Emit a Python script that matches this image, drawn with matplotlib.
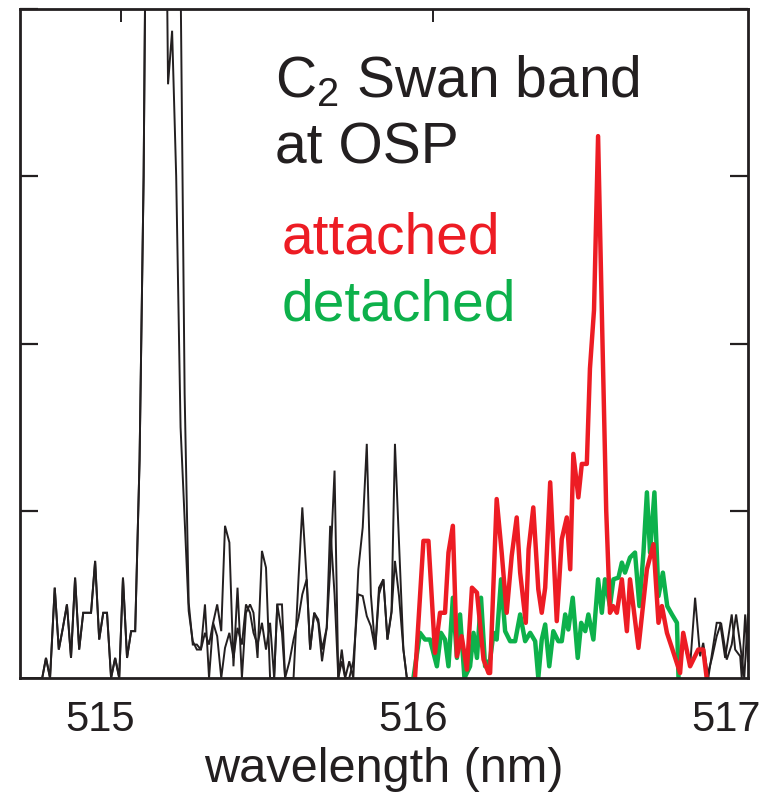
#!/usr/bin/env python3
"""
plot.py
C2 Swan band emission near the outer strike point, attached vs detached.
"""
import numpy as np
import matplotlib
matplotlib.rcParams.update({'font.family': 'Liberation Sans',
                            'mathtext.fontset': 'custom',
                            'mathtext.rm': 'Liberation Sans',
                            'mathtext.it': 'Liberation Sans'})
import matplotlib.pyplot as plt

# ── Data ──────────────────────────────────────────────────────────────────────
# wavelength (nm) of the black part left of the band, shared by both spectra
wl_left = [514.750, 514.815, 514.827, 514.840, 514.855, 514.868, 514.881,
           514.894, 514.907, 514.920, 514.933, 514.946, 514.958, 514.971,
           514.984, 514.997, 515.010, 515.022, 515.035, 515.048, 515.061,
           515.073, 515.086, 515.099, 515.112, 515.126, 515.139, 515.152,
           515.165, 515.178, 515.191, 515.204, 515.217, 515.230, 515.243,
           515.257, 515.270, 515.283, 515.296, 515.309, 515.322, 515.335,
           515.348, 515.361, 515.374, 515.387, 515.399, 515.413, 515.426,
           515.439, 515.453, 515.466, 515.479, 515.490, 515.503, 515.517,
           515.530, 515.543, 515.556, 515.566, 515.581, 515.591, 515.605,
           515.618, 515.634, 515.646, 515.660, 515.671, 515.684, 515.697,
           515.709, 515.724, 515.735, 515.749, 515.761, 515.772, 515.783,
           515.796, 515.809, 515.825, 515.839, 515.852, 515.865, 515.879,
           515.891, 515.905, 515.918, 515.931, 515.942, 515.955, 515.969,
           515.980, 515.990]
att_left = [0, 0, 0.12, 0, 0.54, 0.17, 0.30, 0.44, 0.12, 0.60, 0.17, 0.39,
            0.39, 0.39, 0.70, 0.23, 0.39, 0.39, 0, 0.12, 0, 0.60, 0.12, 0.28,
            0.28, 1.3, 3.0, 6.0, 9.0, 12.0, 10.0, 6.0, 3.55, 3.87, 3.0, 1.5,
            0.95, 0.40, 0.22, 0.17, 0.17, 0.44, 0.0, 0.33, 0.44, 0.28, 0.91,
            0.81, 0.07, 0.54, 0.0, 0.39, 0.44, 0.39, 0.12, 0.76, 0.66, 0.0,
            0.0, 0.44, 0.44, 0.0, 0.0, 0.0, 0.60, 1.02, 0.59, 0.17, 0.39,
            0.35, 0.17, 0.30, 0.65, 1.24, 0.0, 0.17, 0.0, 0.10, 0.0, 0.65,
            0.90, 1.40, 0.50, 0.17, 0.50, 0.59, 0.23, 0.40, 1.40, 0.80, 0.17,
            0.0, 0.0]
det_left = [0, 0, 0.12, 0, 0.54, 0.17, 0.30, 0.44, 0.12, 0.60, 0.17, 0.39,
            0.39, 0.39, 0.70, 0.23, 0.39, 0.39, 0, 0.12, 0, 0.60, 0.12, 0.28,
            0.28, 1.3, 3.0, 6.0, 8.0, 11.0, 12.0, 10.0, 8.0, 6.0, 5.0, 4.2,
            1.7, 0.45, 0.20, 0.20, 0.17, 0.27, 0.20, 0.33, 0.25, 0.0, 0.18,
            0.27, 0.12, 0.30, 0.20, 0.44, 0.39, 0.27, 0.20, 0.33, 0.17, 0.33,
            0.0, 0.44, 0.27, 0.0, 0.10, 0.23, 0.36, 0.50, 0.59, 0.17, 0.39,
            0.33, 0.10, 0.30, 0.91, 0.50, 0.0, 0.10, 0.0, 0.0, 0.10, 0.50,
            0.49, 0.37, 0.31, 0.17, 0.54, 0.59, 0.23, 0.39, 0.70, 0.49, 0.17,
            0.0, 0.0]

# attached spectrum across the band and beyond
wl_att = [516.006, 516.033, 516.049, 516.070, 516.086, 516.102, 516.113,
          516.127, 516.140, 516.155, 516.172, 516.188, 516.204, 516.225,
          516.241, 516.246, 516.267, 516.283, 516.299, 516.315, 516.331,
          516.342, 516.360, 516.369, 516.384, 516.400, 516.411, 516.422,
          516.438, 516.459, 516.475, 516.491, 516.502, 516.512, 516.528,
          516.539, 516.555, 516.565, 516.578, 516.591, 516.604, 516.617,
          516.629, 516.639, 516.651, 516.667, 516.683, 516.693, 516.720,
          516.747, 516.768, 516.784, 516.795, 516.811, 516.827, 516.853,
          516.863, 516.885, 516.911, 516.927, 516.938,
          516.955, 516.970, 516.984, 517.002, 517.018, 517.032, 517.045,
          517.058, 517.070]
att_band = [0, 0.82, 0.82, 0.15, 0.39, 0.39, 0.75, 0.91, 0.13, 0.25, 0.05,
            0.54, 0.51, 0.11, 0.03, 0.03, 1.07, 0.75, 0.39, 0.73, 0.96, 0.63,
            0.33, 0.77, 1.02, 0.53, 0.39, 0.54, 1.17, 0.34, 0.83, 0.96, 0.65,
            1.34, 1.08, 1.28, 1.28, 1.85, 2.2, 3.24, 2.1, 1.0, 0.39, 0.43,
            0.39, 0.59, 0.28, 0.59, 0.18, 0.65, 0.80, 0.33, 0.43, 0.27, 0.18,
            0.03, 0.27, 0.07, 0.17, 0.17, 0.0,
            0.12, 0.25, 0.33, 0.11, 0.20, 0.38, 0.20, 0.0, 0.38]

# detached spectrum across the band and beyond
wl_det = [516.001, 516.022, 516.038, 516.054, 516.076, 516.089, 516.102,
          516.113, 516.127, 516.140, 516.150, 516.164, 516.182, 516.193,
          516.204, 516.217, 516.230, 516.246, 516.257, 516.267, 516.281,
          516.294, 516.310, 516.326, 516.342, 516.358, 516.374, 516.390,
          516.400, 516.411, 516.422, 516.435, 516.448, 516.464, 516.475,
          516.486, 516.496, 516.510, 516.526, 516.537, 516.550, 516.560,
          516.576, 516.591, 516.603, 516.613, 516.629, 516.640, 516.656,
          516.667, 516.677, 516.693, 516.709, 516.723, 516.736, 516.747,
          516.757, 516.771, 516.784, 516.798, 516.812, 516.827, 516.843,
          516.848,
          516.864, 516.885, 516.901, 516.917, 516.927, 516.943, 516.970,
          516.981, 516.997, 517.018, 517.029, 517.045, 517.050, 517.061,
          517.070]
det_band = [0, 0.27, 0.23, 0.23, 0.07, 0.27, 0.23, 0.07, 0.48, 0.12, 0.38,
            0.0, 0.07, 0.27, 0.12, 0.48, 0.07, 0.11, 0.27, 0.23, 0.59, 0.28,
            0.22, 0.22, 0.38, 0.22, 0.27, 0.22, 0.0, 0.23, 0.32, 0.07, 0.28,
            0.22, 0.22, 0.38, 0.29, 0.48, 0.12, 0.33, 0.28, 0.38, 0.23, 0.59,
            0.39, 0.59, 0.43, 0.59, 0.60, 0.69, 0.63, 0.72, 0.75, 0.43, 0.75,
            1.11, 0.75, 1.11, 0.49, 0.63, 0.43, 0.38, 0.33, 0.0,
            0.22, 0.07, 0.48, 0.13, 0.21, 0.0, 0.33, 0.33, 0.12, 0.38, 0.17,
            0.13, 0.0, 0.38, 0.10]

band_att = (515.995, 516.940)
band_det = (515.995, 516.850)

xticks = [515, 516, 517]
yticks = [1, 2, 3, 4]

BLACK = '#231f20'
RED = '#ed1c24'
GREEN = '#0db14b'

# ── Assemble spectra ──────────────────────────────────────────────────────────
att_wl = np.array(wl_left + wl_att)
att_y = np.array(att_left + att_band)
det_wl = np.array(wl_left + wl_det)
det_y = np.array(det_left + det_band)

# ── Figure ────────────────────────────────────────────────────────────────────
fig = plt.figure(figsize=(7.66, 7.93), dpi=100)
ax = fig.add_axes([20 / 766, 1 - 678 / 793, 728 / 766, 669 / 793])

ax.plot(det_wl, det_y, color=BLACK, lw=1.4, solid_joinstyle='miter')
ax.plot(att_wl, att_y, color=BLACK, lw=1.4, solid_joinstyle='miter')

m = (det_wl >= band_det[0]) & (det_wl <= band_det[1])
ax.plot(det_wl[m], det_y[m], color=GREEN, lw=3.2)
m = (att_wl >= band_att[0]) & (att_wl <= band_att[1])
ax.plot(att_wl[m], att_y[m], color=RED, lw=3.2)

ax.set_xlim(514.744, 517.070)
ax.set_ylim(0, 4)
ax.set_xticks(xticks)
ax.set_yticks(yticks)
ax.tick_params(axis='x', length=0, labelsize=30, pad=16, colors=BLACK)
ax.tick_params(axis='y', direction='in', length=13, width=1.6, left=True,
               right=True, labelleft=False, colors=BLACK)
for s in ax.spines.values():
    s.set_linewidth(2.0)
    s.set_color(BLACK)

# short tick marks along the top edge
top = ax.secondary_xaxis('top')
top.set_xticks([515.067, 516.064])
top.tick_params(direction='in', length=9, width=1.4, labeltop=False,
                colors=BLACK)
top.spines['top'].set_visible(False)

ax.set_xlabel('wavelength (nm)', fontsize=35, color=BLACK, labelpad=5)

fig.text(275 / 766, 1 - 97 / 793, r'C$_{\mathrm{2}}$ Swan band', fontsize=41,
         color=BLACK, va='baseline')
fig.text(275 / 766, 1 - 163 / 793, 'at OSP', fontsize=41, color=BLACK,
         va='baseline')
fig.text(282 / 766, 1 - 253 / 793, 'attached', fontsize=41, color=RED,
         va='baseline')
fig.text(282 / 766, 1 - 320 / 793, 'detached', fontsize=41, color=GREEN,
         va='baseline')

fig.savefig('out.png', dpi=100)
